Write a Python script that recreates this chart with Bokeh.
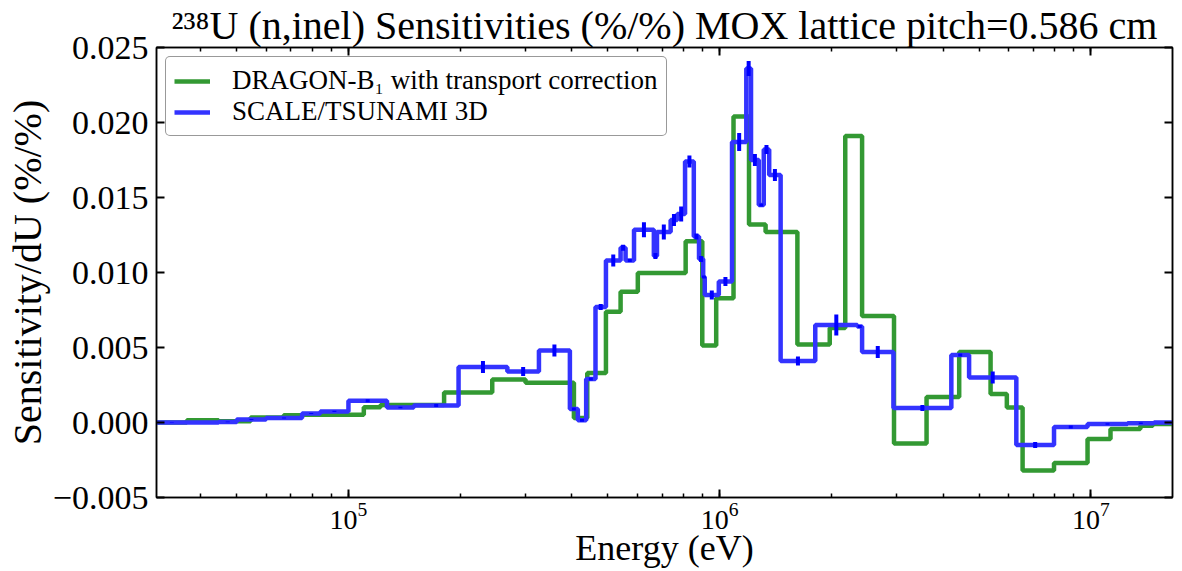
import numpy as np
from bokeh.plotting import figure
from bokeh.models import (Range1d, LogAxis, LinearAxis, LogTicker, SingleIntervalTicker,
                          CustomJSTickFormatter, Legend, ColumnDataSource)
from bokeh.embed import file_html
from bokeh.resources import INLINE

# ---------------- data ----------------
blue_edges = [2.5e4, 4.47e4, 5.0e4, 6.0e4, 7.5e4, 8.4e4, 1.0e5, 1.27e5, 1.5e5, 1.98e5,
              2.68e5, 3.26e5, 3.95e5, 4.15e5, 4.37e5, 4.63e5, 4.94e5, 5.41e5, 5.58e5,
              5.88e5, 6.65e5, 6.78e5, 7.38e5, 7.69e5, 8.07e5, 8.52e5, 8.8e5, 9.03e5,
              9.12e5, 9.95e5, 1.08e6, 1.18e6, 1.215e6, 1.275e6, 1.315e6, 1.36e6, 1.46e6,
              1.81e6, 2.35e6, 2.42e6, 2.94e6, 4.21e6, 4.70e6, 6.3e6, 7.96e6, 9.8e6,
              1.256e7, 1.48e7, 2.0e7]
blue_vals = [0.0, 0.00004, 0.0002, 0.0003, 0.0006, 0.00074, 0.00145, 0.0010, 0.00113,
             0.0037, 0.0034, 0.0048, 0.0009, 0.00015, 0.0029, 0.0077, 0.0108, 0.01165,
             0.0108, 0.01285, 0.0111, 0.0127, 0.0135, 0.0139, 0.0174, 0.0124, 0.0109,
             0.0097, 0.0085, 0.0094, 0.0187, 0.0236, 0.0175, 0.0145, 0.0182, 0.0165,
             0.0041, 0.0065, 0.0064, 0.0047, 0.00096, 0.0045, 0.0030, -0.0015, -0.0003,
             -0.0001, -0.00005, 0.0]
blue_err = [0.00002, 0.00002, 0.00003, 0.00003, 0.00004, 0.00004, 0.0001, 0.00005, 0.0001,
            0.0004, 0.0003, 0.0004, 0.0001, 0.0001, 0.0001, 0.0002, 0.0004, 0.0002,
            0.0001, 0.0005, 0.0002, 0.0005, 0.0004, 0.0005, 0.0004, 0.0002, 0.0002,
            0.0001, 0.0003, 0.0003, 0.0006, 0.0005, 0.0004, 0.0001, 0.0003, 0.0004,
            0.0003, 0.0007, 0.0001, 0.0004, 0.0002, 0.0001, 0.0004, 0.0002, 0.0001,
            0.00005, 0.00005, 0.00003]

green_edges = [2.5e4, 3.67e4, 4.47e4, 5.45e4, 6.69e4, 7.5e4, 1.1e5, 1.22e5, 1.81e5, 2.44e5,
               3.0e5, 4.05e5, 4.40e5, 4.94e5, 5.41e5, 6.02e5, 8.1e5, 8.98e5, 9.79e5,
               1.09e6, 1.2e6, 1.33e6, 1.62e6, 1.98e6, 2.18e6, 2.42e6, 2.95e6, 3.61e6,
               4.42e6, 5.37e6, 5.94e6, 6.55e6, 7.96e6, 9.8e6, 1.13e7, 1.36e7, 1.47e7, 2.0e7]
green_vals = [0.0, 0.00015, 0.00008, 0.00033, 0.00048, 0.00052, 0.00102, 0.00117, 0.0020,
              0.00286, 0.00265, 0.0003, 0.0033, 0.00738, 0.00872, 0.00996, 0.01209,
              0.00514, 0.00829, 0.0204, 0.0132, 0.0127, 0.0052, 0.0063, 0.0191, 0.0071,
              -0.0014, 0.0017, 0.0047, 0.0019, 0.0010, -0.0032, -0.0027, -0.0011,
              -0.00044, -0.00022, -0.0001]

x_min, x_max = 3.04e4, 1.66e7
y_min, y_max = -0.005, 0.025

title_text = "\u00b2\u00b3\u2078U (n,inel) Sensitivities (%/%) MOX lattice pitch=0.586 cm"
x_label = "Energy (eV)"
y_label = "Sensitivity/dU (%/%)"
green_name = "DRAGON-B\u2081 with transport correction"
blue_name = "SCALE/TSUNAMI 3D"

FONT = "Liberation Serif"
GREEN = "#339933"
BLUE_LINE = "#3333ff"
BLUE_ERR = "#0000ff"

# ---------------- figure ----------------
p = figure(width=1180, height=570, x_axis_type="log",
           x_range=Range1d(x_min, x_max), y_range=Range1d(y_min, y_max),
           output_backend="svg", toolbar_location=None,
           min_border_left=156, min_border_right=8, min_border_top=40,
           min_border_bottom=69, x_axis_location=None, y_axis_location=None)
p.grid.visible = False
p.outline_line_color = "black"
p.outline_line_width = 1.5
p.background_fill_color = "white"
p.border_fill_color = "white"

p.title.text = title_text
p.title.text_font = FONT
p.title.text_font_size = "40px"
p.title.text_font_style = "normal"
p.title.text_color = "black"
p.title.align = "center"
p.title.standoff = 0


def style_axis(ax, labels=True):
    ax.axis_line_color = "black"
    ax.axis_line_width = 1.5
    ax.major_tick_in = 8
    ax.major_tick_out = 0
    ax.minor_tick_in = 4
    ax.minor_tick_out = 0
    ax.major_tick_line_width = 2
    ax.minor_tick_line_width = 1.5
    ax.major_tick_line_color = "black"
    ax.minor_tick_line_color = "black"
    ax.major_label_text_font = FONT
    ax.major_label_text_color = "black"
    ax.axis_label_text_color = "black"
    if not labels:
        ax.major_label_text_font_size = "0px"
        ax.major_label_text_color = None
        ax.major_label_standoff = 0


bottom = LogAxis(ticker=LogTicker(num_minor_ticks=10), axis_label=x_label)
style_axis(bottom)
bottom.major_label_text_font_size = "28px"
bottom.major_label_standoff = 5
bottom.axis_label_text_font = FONT
bottom.axis_label_text_font_size = "36px"
bottom.axis_label_text_font_style = "normal"
bottom.axis_label_standoff = -4
p.add_layout(bottom, "below")

top = LogAxis(ticker=LogTicker(num_minor_ticks=10))
style_axis(top, labels=False)
p.add_layout(top, "above")

yfmt = CustomJSTickFormatter(code="return (tick < -1e-12 ? '\\u2212' : '') + Math.abs(tick).toFixed(3);")
left = LinearAxis(ticker=SingleIntervalTicker(interval=0.005, num_minor_ticks=0),
                  formatter=yfmt, axis_label=y_label)
style_axis(left)
left.major_label_text_font_size = "34px"
left.major_label_standoff = 8
left.axis_label_text_font = FONT
left.axis_label_text_font_size = "40px"
left.axis_label_text_font_style = "normal"
left.axis_label_standoff = 0
p.add_layout(left, "left")

right = LinearAxis(ticker=SingleIntervalTicker(interval=0.005, num_minor_ticks=0))
style_axis(right, labels=False)
p.add_layout(right, "right")

# ---------------- data glyphs ----------------
g_src = ColumnDataSource(dict(x=green_edges, y=list(green_vals) + [green_vals[-1]]))
b_src = ColumnDataSource(dict(x=blue_edges, y=list(blue_vals) + [blue_vals[-1]]))
gr = p.step("x", "y", source=g_src, mode="after", line_color=GREEN, line_width=4.5)
br = p.step("x", "y", source=b_src, mode="after", line_color=BLUE_LINE, line_width=4.5)

be = np.array(blue_edges)
centers = np.sqrt(be[:-1] * be[1:])
bv = np.array(blue_vals)
err = np.array(blue_err)
p.segment(x0=centers, x1=centers, y0=bv - err, y1=bv + err, line_color=BLUE_ERR,
          line_width=4)

legend = Legend(items=[(green_name, [gr]), (blue_name, [br])], location="top_left")
legend.label_text_font = FONT
legend.label_text_font_size = "27px"
legend.label_text_color = "black"
legend.label_standoff = 22
legend.glyph_width = 36
legend.glyph_height = 24
legend.label_height = 24
legend.spacing = 0
legend.padding = 8
legend.margin = 9
legend.border_line_color = "#333333"
legend.border_line_width = 1.5
legend.background_fill_alpha = 1.0
if "border_radius" in legend.properties():
    legend.border_radius = 5
p.add_layout(legend, "center")

open("out.html", "w").write(file_html(p, INLINE))
